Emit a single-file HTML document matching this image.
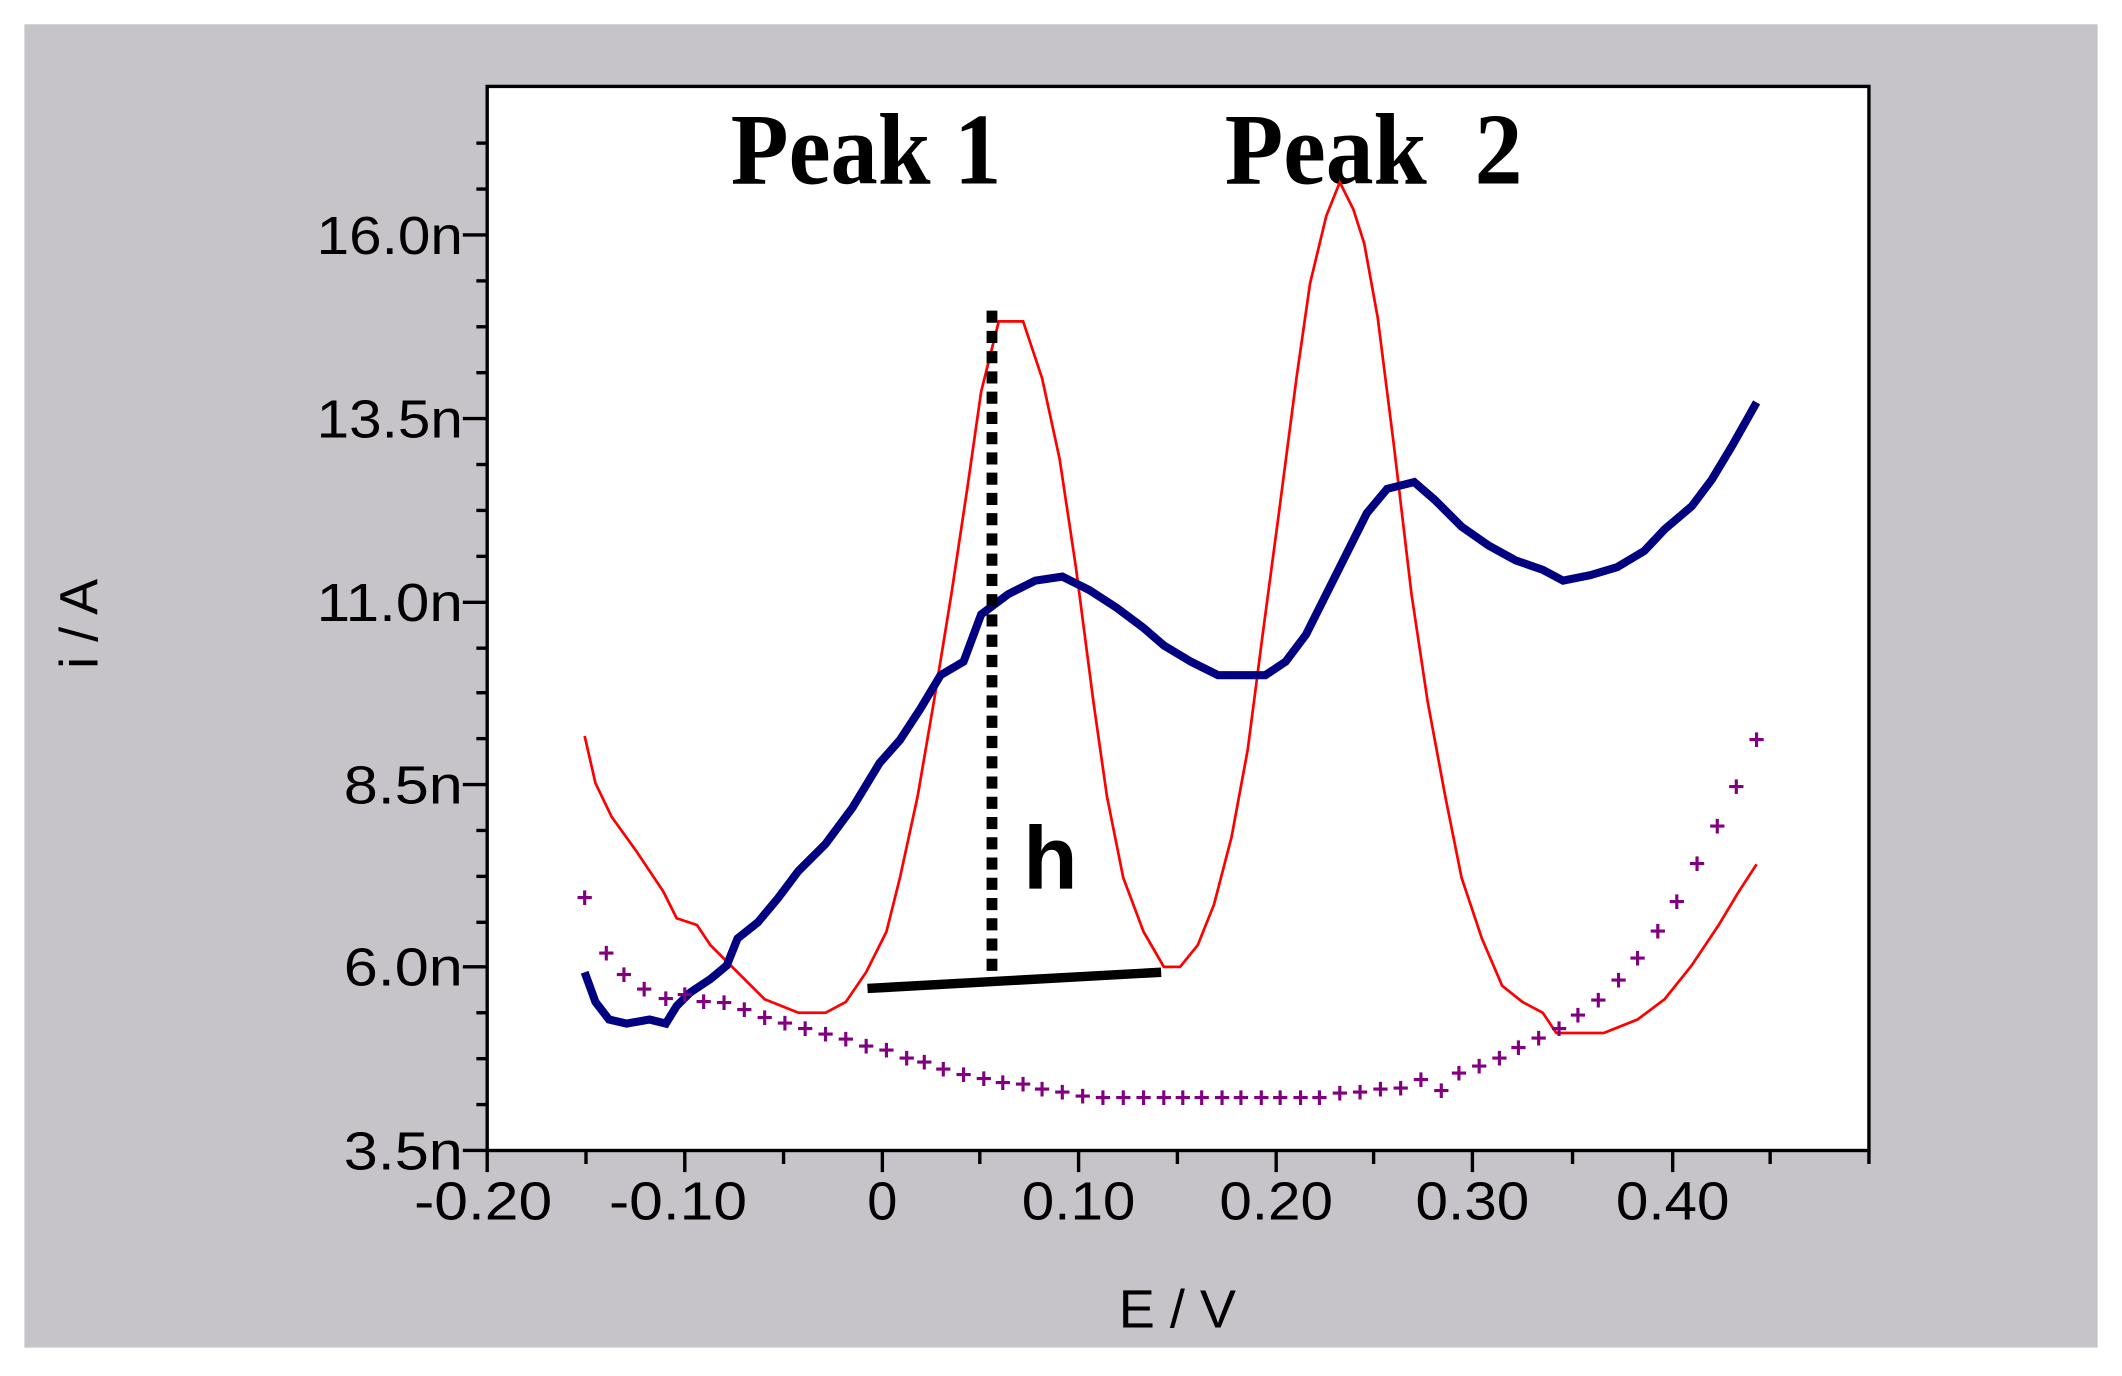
<!DOCTYPE html>
<html><head><meta charset="utf-8"><style>
html,body{margin:0;padding:0;background:#fff;}
svg{display:block;}
</style></head><body>
<svg width="2122" height="1376" viewBox="0 0 1568 1019" preserveAspectRatio="none" xmlns="http://www.w3.org/2000/svg">
<rect x="0" y="0" width="1568" height="1019" fill="#fff"/>
<rect x="18" y="18" width="1532" height="980" fill="#c6c4c8"/>
<rect x="360" y="64" width="1021" height="788" fill="#fff" stroke="#000" stroke-width="2.5"/>
<g stroke="#000" stroke-width="2.5">
<line x1="342" y1="174" x2="360" y2="174"/><line x1="342" y1="310" x2="360" y2="310"/>
<line x1="342" y1="446" x2="360" y2="446"/><line x1="342" y1="581" x2="360" y2="581"/>
<line x1="342" y1="716" x2="360" y2="716"/><line x1="342" y1="852" x2="360" y2="852"/>
<line x1="352" y1="106" x2="360" y2="106"/><line x1="352" y1="242" x2="360" y2="242"/>
<line x1="352" y1="378" x2="360" y2="378"/><line x1="352" y1="513" x2="360" y2="513"/>
<line x1="352" y1="649" x2="360" y2="649"/><line x1="352" y1="784" x2="360" y2="784"/>
<line x1="352" y1="140" x2="360" y2="140"/><line x1="352" y1="208" x2="360" y2="208"/>
<line x1="352" y1="276" x2="360" y2="276"/><line x1="352" y1="344" x2="360" y2="344"/>
<line x1="352" y1="412" x2="360" y2="412"/><line x1="352" y1="480" x2="360" y2="480"/>
<line x1="352" y1="547" x2="360" y2="547"/><line x1="352" y1="615" x2="360" y2="615"/>
<line x1="352" y1="683" x2="360" y2="683"/><line x1="352" y1="750" x2="360" y2="750"/>
<line x1="352" y1="818" x2="360" y2="818"/>
<line x1="360" y1="852" x2="360" y2="868"/><line x1="506" y1="852" x2="506" y2="868"/>
<line x1="652" y1="852" x2="652" y2="868"/><line x1="797" y1="852" x2="797" y2="868"/>
<line x1="943" y1="852" x2="943" y2="868"/><line x1="1088" y1="852" x2="1088" y2="868"/>
<line x1="1236" y1="852" x2="1236" y2="868"/>
<line x1="433" y1="852" x2="433" y2="862"/><line x1="579" y1="852" x2="579" y2="862"/>
<line x1="724" y1="852" x2="724" y2="862"/><line x1="870" y1="852" x2="870" y2="862"/>
<line x1="1015" y1="852" x2="1015" y2="862"/><line x1="1162" y1="852" x2="1162" y2="862"/>
<line x1="1308" y1="852" x2="1308" y2="862"/><line x1="1381" y1="852" x2="1381" y2="862"/>
</g>
<g font-family="Liberation Sans, sans-serif" font-size="40" fill="#000" text-anchor="end">
<text x="342" y="188" textLength="108" lengthAdjust="spacingAndGlyphs">16.0n</text><text x="342" y="324" textLength="108" lengthAdjust="spacingAndGlyphs">13.5n</text>
<text x="342" y="460" textLength="108" lengthAdjust="spacingAndGlyphs">11.0n</text><text x="342" y="595" textLength="88" lengthAdjust="spacingAndGlyphs">8.5n</text>
<text x="342" y="730" textLength="88" lengthAdjust="spacingAndGlyphs">6.0n</text><text x="342" y="866" textLength="88" lengthAdjust="spacingAndGlyphs">3.5n</text>
</g>
<g font-family="Liberation Sans, sans-serif" font-size="40" fill="#000" text-anchor="middle">
<text x="357" y="903" textLength="102" lengthAdjust="spacingAndGlyphs">-0.20</text><text x="501" y="903" textLength="102" lengthAdjust="spacingAndGlyphs">-0.10</text>
<text x="652" y="903">0</text><text x="797" y="903" textLength="84" lengthAdjust="spacingAndGlyphs">0.10</text>
<text x="943" y="903" textLength="84" lengthAdjust="spacingAndGlyphs">0.20</text><text x="1088" y="903" textLength="84" lengthAdjust="spacingAndGlyphs">0.30</text>
<text x="1236" y="903" textLength="84" lengthAdjust="spacingAndGlyphs">0.40</text>
<text x="870" y="983">E / V</text>
<text transform="translate(72,462) rotate(-90)">i / A</text>
</g>
<g font-family="Liberation Serif, serif" font-weight="bold" font-size="56" fill="#000" transform="translate(0,136) scale(1,1.35) translate(0,-136)">
<text x="540" y="136" textLength="200" lengthAdjust="spacingAndGlyphs">Peak 1</text>
<text x="905" y="136" textLength="220" lengthAdjust="spacingAndGlyphs" xml:space="preserve">Peak  2</text>
</g>
<text x="756" y="658" font-family="Liberation Sans, sans-serif" font-weight="bold" font-size="66" fill="#000">h</text>
<polyline fill="none" stroke="#ff0000" stroke-width="2" points="432,545 440,580 452,605 470,630 490,660 500,680 515,685 525,700 545,720 565,740 590,750 610,750 625,742 640,720 655,690 665,650 678,590 690,520 703,440 715,360 725,290 738,238 756,238 770,280 783,340 795,420 808,520 818,590 830,650 845,690 860,716 872,716 885,700 897,670 910,620 922,555 933,470 945,380 958,280 968,210 980,160 990,135 1000,155 1008,180 1018,235 1030,330 1043,440 1055,520 1068,590 1080,650 1095,695 1110,730 1125,742 1140,750 1150,765 1185,765 1210,755 1230,740 1250,715 1270,685 1285,660 1298,640"/>
<polyline fill="none" stroke="#000080" stroke-width="6" points="432,720 440,742 450,755 463,758 480,755 492,758 500,745 510,735 525,725 537,715 545,695 560,683 575,665 590,645 610,625 630,598 650,565 665,548 680,525 695,500 712,490 725,455 745,440 765,430 785,427 805,437 825,450 845,465 860,478 880,490 900,500 935,500 950,490 965,470 980,440 995,410 1010,380 1025,362 1045,357 1060,370 1080,390 1100,404 1120,415 1140,422 1155,430 1175,426 1195,420 1215,408 1230,392 1250,375 1265,355 1280,330 1298,298"/>
<line x1="733" y1="230" x2="733" y2="722" stroke="#000" stroke-width="8" stroke-dasharray="9,6"/>
<line x1="641" y1="732" x2="858" y2="720" stroke="#000" stroke-width="7"/>
<g font-family="Liberation Sans, sans-serif" font-size="21" font-weight="bold" fill="#800080" text-anchor="middle">
<text x="432" y="672">+</text><text x="448" y="713">+</text><text x="461" y="729">+</text><text x="476" y="740">+</text><text x="492" y="747">+</text><text x="506" y="744">+</text><text x="520" y="749">+</text><text x="535" y="750">+</text><text x="550" y="755">+</text><text x="565" y="761">+</text><text x="580" y="765">+</text><text x="595" y="769">+</text><text x="610" y="773">+</text><text x="625" y="777">+</text><text x="640" y="782">+</text><text x="655" y="785">+</text><text x="670" y="791">+</text><text x="683" y="794">+</text><text x="697" y="799">+</text><text x="712" y="803">+</text><text x="727" y="806">+</text><text x="741" y="809">+</text><text x="756" y="810">+</text><text x="770" y="814">+</text><text x="785" y="816">+</text><text x="800" y="819">+</text><text x="815" y="820">+</text><text x="830" y="820">+</text><text x="845" y="820">+</text><text x="860" y="820">+</text><text x="874" y="820">+</text><text x="888" y="820">+</text><text x="903" y="820">+</text><text x="917" y="820">+</text><text x="932" y="820">+</text><text x="946" y="820">+</text><text x="961" y="820">+</text><text x="975" y="820">+</text><text x="990" y="817">+</text><text x="1005" y="816">+</text><text x="1020" y="814">+</text><text x="1035" y="813">+</text><text x="1050" y="807">+</text><text x="1065" y="815">+</text><text x="1078" y="802">+</text><text x="1093" y="797">+</text><text x="1108" y="791">+</text><text x="1122" y="783">+</text><text x="1137" y="776">+</text><text x="1152" y="769">+</text><text x="1166" y="759">+</text><text x="1181" y="748">+</text><text x="1196" y="733">+</text><text x="1210" y="717">+</text><text x="1225" y="697">+</text><text x="1239" y="675">+</text><text x="1254" y="647">+</text><text x="1269" y="619">+</text><text x="1283" y="590">+</text><text x="1298" y="555">+</text>
</g>
</svg>
</body></html>
